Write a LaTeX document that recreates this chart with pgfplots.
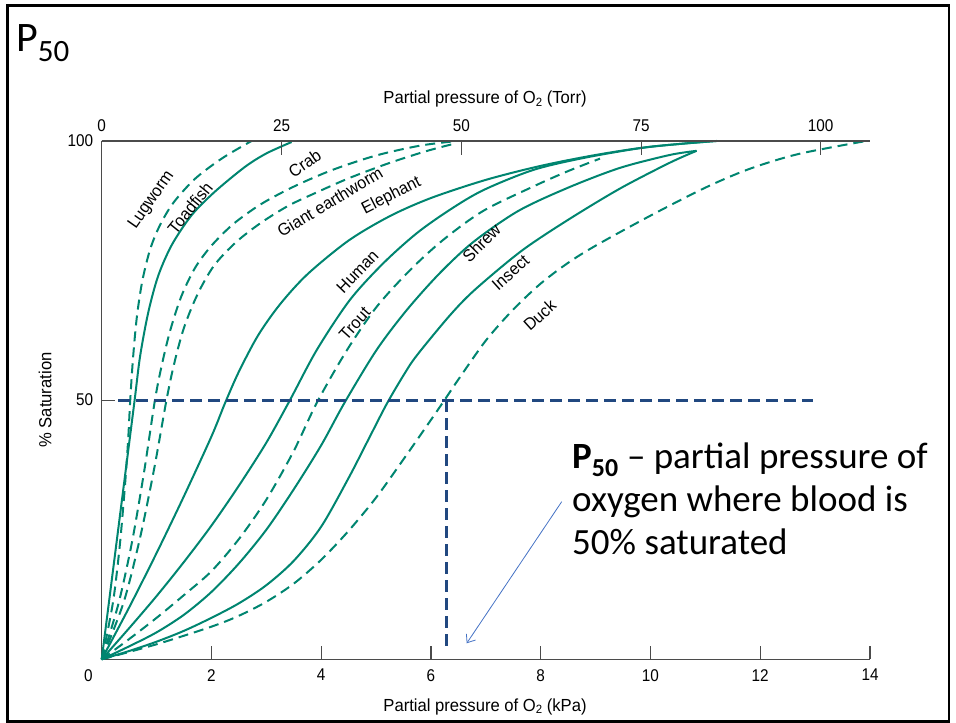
\documentclass[border=0pt]{standalone}
\usepackage{pgfplots}
\pgfplotsset{compat=1.18}
\usepackage{fontspec}
\setmainfont{Carlito}
\newfontfamily\cond[FakeStretch=0.9]{Liberation Sans}
\newfontfamily\condb[FakeStretch=0.95]{Liberation Sans}
\usetikzlibrary{arrows.meta}
\definecolor{teal1}{RGB}{0,133,112}
\definecolor{dblue}{RGB}{33,72,128}
\definecolor{axgray}{RGB}{75,75,75}
\definecolor{arrowblue}{RGB}{68,114,196}
\newcommand{\tickfont}{\cond\fontsize{17}{20}\selectfont}
\newcommand{\chartfont}{\condb\fontsize{17.5}{20}\selectfont}
\newcommand{\labfont}{\condb\fontsize{17}{20}\selectfont}
\pgfplotsset{
  solidc/.style={teal1, line width=2pt, smooth, tension=0.5},
  dashc/.style={teal1, line width=2pt, smooth, tension=0.5, dash pattern=on 10pt off 6pt},
}
\begin{document}
\begin{tikzpicture}
\useasboundingbox (0,0) rectangle (956pt,723pt);
\draw[line width=2.5pt] (7.7pt,1.7pt) rectangle (949pt,717.3pt);
% title
\node[anchor=base west, inner sep=0pt] at (16pt,671pt) {\fontsize{42}{50}\selectfont P\raisebox{-9.7pt}{\fontsize{31}{36}\selectfont 50}};
% main axis
\begin{axis}[at={(101.7pt,63.7pt)}, anchor=south west, scale only axis,
  width=768.3pt, height=518.3pt, xmin=0, xmax=14, ymin=0, ymax=100,
  axis x line=bottom, axis y line=left,
  axis line style={-, draw=axgray, line width=1.3pt},
  clip=false,
  xtick={2,4,6,8,10,12,14}, ytick={50,100},
  /pgf/number format/assume math mode=true,
  tick align=inside, major tick length=13pt,
  tick style={axgray, line width=1.2pt},
  tick label style={font=\tickfont, inner sep=0pt},
  xticklabel style={anchor=north, yshift=-9.7pt},
  yticklabel style={anchor=east, xshift=-8.4pt},
]
% Lugworm
\addplot[dashc] coordinates {(0,0) (0.1,5) (0.22,12) (0.33,22) (0.42,33) (0.48,42) (0.52,50) (0.57,58) (0.64,66) (0.74,73) (0.88,79) (1.05,83.5) (1.3,88) (1.7,92.7) (2.2,96.7) (2.73,100)};
% Toadfish
\addplot[solidc] coordinates {(0,0) (0.15,12.5) (0.3,25) (0.45,37.5) (0.6,50) (0.7,58.5) (0.85,67) (1.03,74) (1.28,80) (1.64,85.7) (2.06,90.2) (2.61,95.0) (3.0,97.6) (3.46,99.8)};
% Crab
\addplot[dashc] coordinates {(0,0) (0.3,10.5) (0.55,22.5) (0.77,36) (0.97,50) (1.1,57) (1.25,63.5) (1.45,70) (1.7,75.5) (2.0,79.8) (2.4,84) (2.9,87.8) (3.5,91.2) (4.2,94.4) (5.0,97.2) (5.8,99.1) (6.47,100)};
% Giant earthworm
\addplot[dashc] coordinates {(0,0) (0.4,11) (0.7,23.5) (0.96,37) (1.18,50) (1.32,57) (1.5,64) (1.75,70.5) (2.05,76) (2.45,80.5) (2.9,84.2) (3.4,87.5) (3.9,90) (4.5,92.8) (5.2,95.6) (5.9,98) (6.47,99.6)};
% Elephant
\addplot[solidc] coordinates {(0,0) (0.5,10) (1.0,20.5) (1.5,31.5) (2.0,43) (2.25,49.5) (2.5,55.5) (2.85,62.5) (3.25,68.5) (3.75,74.3) (4.5,80.8) (5.25,85.5) (6.0,89) (7.0,92.5) (8.0,95.2) (9.0,97.3) (10.0,98.9) (11.2,100)};
% Human
\addplot[solidc] coordinates {(0,0) (0.5,6) (1.0,12.2) (1.5,18.8) (2.0,25.8) (2.5,33.5) (3.0,41.8) (3.43,50) (3.92,59.7) (4.52,69.3) (5.13,76.4) (5.74,82.2) (6.34,86.7) (6.95,90.5) (7.86,94.4) (8.77,96.7) (9.8,98.6) (10.6,99.5) (11.2,100)};
% Trout
\addplot[dashc] coordinates {(0,0) (0.5,3.9) (1.0,8) (1.5,12.4) (2.0,17) (2.5,23.2) (3.0,30.8) (3.5,40.2) (3.92,49.5) (4.46,59.5) (5.01,68) (5.62,75.1) (6.22,80.9) (6.95,86.5) (7.86,91.2) (8.5,94.2) (9.08,96.6)};
% Shrew
\addplot[solidc] coordinates {(0,0) (0.5,2.5) (1.0,5.2) (1.5,8.6) (2.0,13) (2.5,18.5) (3.0,25) (3.5,32.8) (4.0,41.3) (4.43,49.6) (5.01,59.7) (5.56,67.4) (6.16,74.5) (6.77,80.5) (7.59,86.5) (8.5,91) (9.44,94.8) (10.35,97.3) (10.84,98.1)};
% Insect
\addplot[solidc] coordinates {(0,0) (0.5,1.6) (1.0,3.4) (1.5,5.5) (2.0,8) (2.5,10.8) (3.0,14.3) (3.5,19) (4.0,25.6) (4.5,35) (4.85,42.2) (5.19,49.2) (5.5,54.8) (5.74,58.6) (6.34,66.3) (6.8,71.3) (7.65,78.8) (8.5,84.8) (9.44,90.8) (10.35,95.8) (10.84,98.1)};
% Duck
\addplot[dashc] coordinates {(0,0) (1.0,2.9) (2.0,6.3) (2.5,8.4) (3.0,11.1) (3.5,14.6) (4.0,19.2) (4.5,24.8) (5.0,31.2) (5.5,38.6) (6.0,46.2) (6.22,49.6) (6.5,54) (7.0,61.5) (7.5,67.5) (8.0,72.5) (8.5,76.5) (9.0,79.8) (10.0,85.6) (11.0,91.0) (11.8,94.6) (12.7,97.5) (13.93,100)};
% P50 guide lines
\addplot[dblue, line width=3.2pt, dash pattern=on 11.5pt off 6.5pt] coordinates {(0.3,50) (12.96,50)};
\addplot[dblue, line width=3.2pt, dash pattern=on 11.5pt off 6.5pt] coordinates {(6.29,50) (6.29,2.1)};
% curve labels
\node[rotate=55, font=\labfont, inner sep=0pt] at (axis cs:0.91,88.6) {Lugworm};
\node[rotate=51, font=\labfont, inner sep=0pt] at (axis cs:1.61,87.1) {Toadfish};
\node[rotate=34, font=\labfont, inner sep=0pt] at (axis cs:3.70,95.7) {Crab};
\node[rotate=31, font=\labfont, inner sep=0pt] at (axis cs:4.16,88.3) {Giant earthworm};
\node[rotate=27, font=\labfont, inner sep=0pt] at (axis cs:5.28,89.4) {Elephant};
\node[rotate=46, font=\labfont, inner sep=0pt] at (axis cs:4.66,74.8) {Human};
\node[rotate=48, font=\labfont, inner sep=0pt] at (axis cs:4.61,64.8) {Trout};
\node[rotate=45, font=\labfont, inner sep=0pt] at (axis cs:6.92,80.3) {Shrew};
\node[rotate=42, font=\labfont, inner sep=0pt] at (axis cs:7.45,74.6) {Insect};
\node[rotate=42, font=\labfont, inner sep=0pt] at (axis cs:7.98,66.4) {Duck};
\end{axis}
% top (Torr) axis
\begin{axis}[at={(101.7pt,63.7pt)}, anchor=south west, scale only axis,
  width=768.3pt, height=518.3pt, xmin=0, xmax=14, ymin=0, ymax=100,
  axis x line=top, axis y line=none,
  axis line style={-, draw=axgray, line width=1.3pt},
  xtick={0,3.28,6.555,9.83,13.1}, xticklabels={0,25,50,75,100}, ytick=\empty,
  tick align=inside, major tick length=14pt,
  tick style={axgray, line width=1.2pt},
  tick label style={font=\tickfont, inner sep=0pt},
  xticklabel style={anchor=south, yshift=9.3pt},
]
\addplot[draw=none] coordinates {(0,0) (14,100)};
\end{axis}
% axis labels
\node[anchor=base, inner sep=0pt] at (485pt,12pt) {\chartfont Partial pressure of O\raisebox{-2.5pt}{\fontsize{12}{13}\selectfont 2} (kPa)};
\node[anchor=base, inner sep=0pt] at (485pt,619pt) {\chartfont Partial pressure of O\raisebox{-2.5pt}{\fontsize{12}{13}\selectfont 2} (Torr)};
\node[rotate=90, inner sep=0pt] at (45pt,323pt) {\chartfont \% Saturation};
\node[inner sep=0pt] at (88.5pt,47.5pt) {\tickfont 0};
% annotation
\node[anchor=base west, inner sep=0pt] at (572pt,254.7pt) {\fontsize{37}{44}\selectfont \textbf{P\textsubscript{50}} – partial pressure of};
\node[anchor=base west, inner sep=0pt] at (572pt,211.3pt) {\fontsize{37}{44}\selectfont oxygen where blood is};
\node[anchor=base west, inner sep=0pt] at (572pt,168pt) {\fontsize{37}{44}\selectfont 50\% saturated};
\draw[arrowblue, line width=0.8pt, -{Straight Barb[length=7pt,width=11pt]}] (561.7pt,221.3pt) -- (466.7pt,79.7pt);
\end{tikzpicture}
\end{document}
